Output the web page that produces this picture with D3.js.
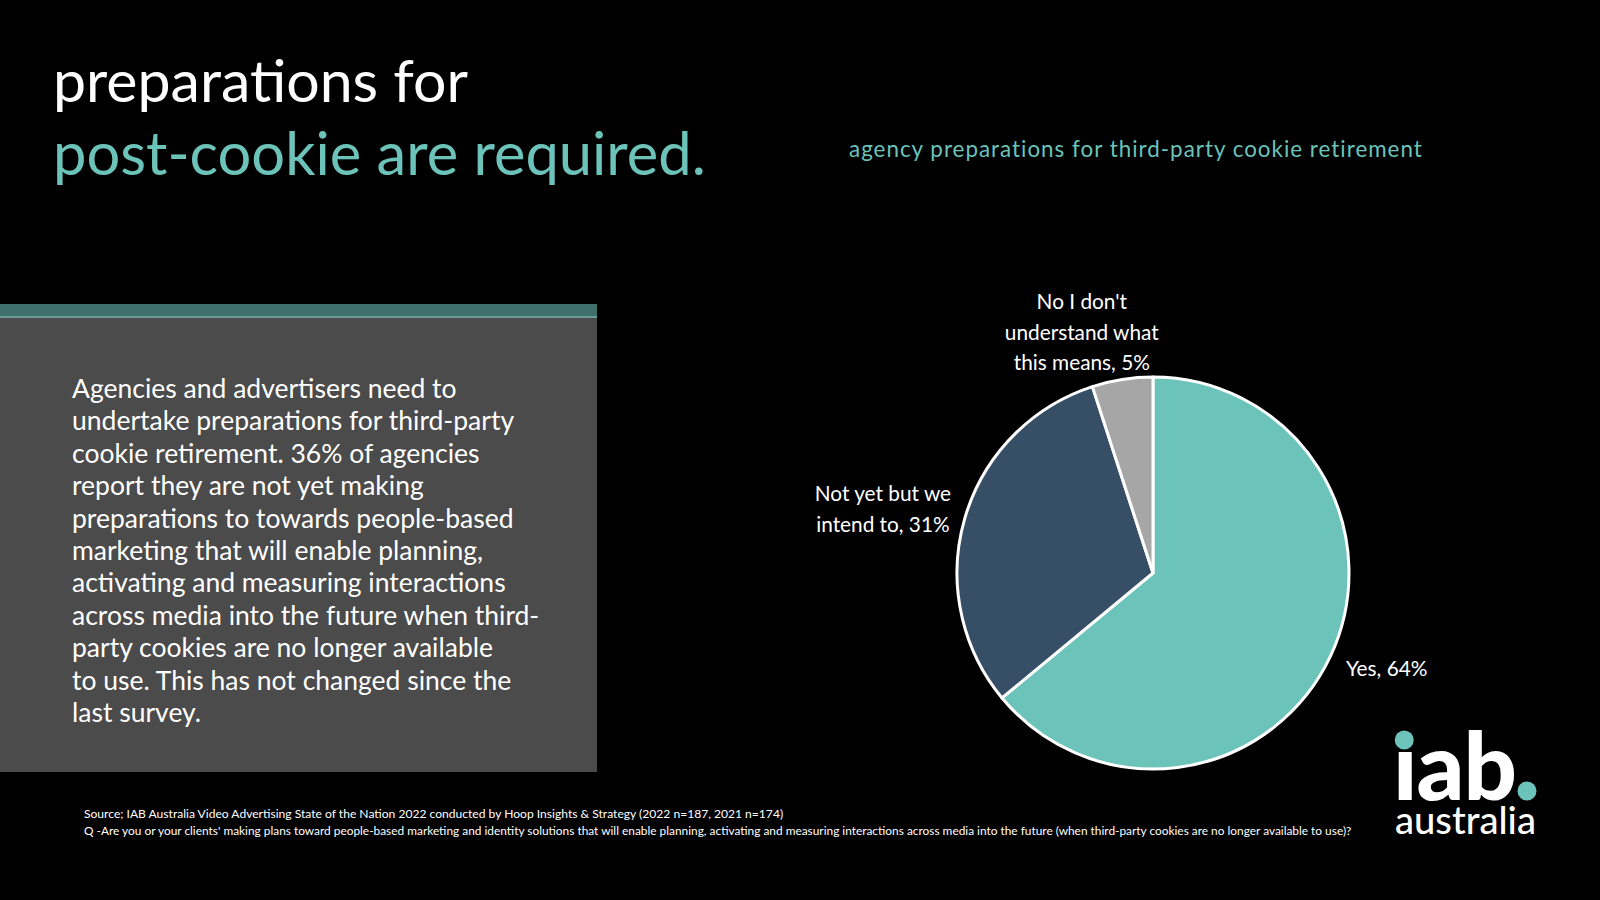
<!DOCTYPE html>
<html>
<head>
<meta charset="utf-8">
<script src="https://cdn.jsdelivr.net/npm/d3@7"></script>
<style>
  html, body { margin: 0; padding: 0; background: #000; }
  svg { display: block; }
</style>
</head>
<body>
<script>
// Pie data
var categories = ["Yes", "Not yet but we intend to", "No I don't understand what this means"];
var shares = [64, 31, 5];
var sliceColors = ["#6cc3b9", "#374f66", "#a6a6a6"];
var labelLines = [
  ["Yes, 64%"],
  ["Not yet but we", "intend to, 31%"],
  ["No I don't", "understand what", "this means, 5%"]
];

var titleLines = ["preparations for", "post-cookie are required."];
var subtitle = "agency preparations for third-party cookie retirement";
var bodyLines = [
  "Agencies and advertisers need to",
  "undertake preparations for third-party",
  "cookie retirement. 36% of agencies",
  "report they are not yet making",
  "preparations to towards people-based",
  "marketing that will enable planning,",
  "activating and measuring interactions",
  "across media into the future when third-",
  "party cookies are no longer available",
  "to use. This has not changed since the",
  "last survey."
];
var notes = [
  "Source; IAB Australia Video Advertising State of the Nation 2022 conducted by Hoop Insights & Strategy (2022 n=187, 2021 n=174)",
  "Q -Are you or your clients' making plans toward people-based marketing and identity solutions that will enable planning, activating and measuring interactions across media into the future (when third-party cookies are no longer available to use)?"
];

var width = 1600, height = 900,
    teal = "#6cc3b9",
    font = "Lato, 'Noto Sans', sans-serif";

var svg = d3.select("body")
            .append("svg")
            .attr("width", width)
            .attr("height", height);

svg.append("rect").attr("width", width).attr("height", height).attr("fill", "#000");

// fit a text node to a target width by adjusting font size
function fitWidth(sel, target) {
  var w = sel.node().getComputedTextLength();
  var fs = parseFloat(sel.attr("font-size"));
  sel.attr("font-size", fs * target / w);
}

// Title
var t1 = svg.append("text")
   .attr("x", 53).attr("y", 102)
   .attr("font-family", font).attr("font-size", 56)
   .attr("fill", "#fff")
   .text(titleLines[0]);
fitWidth(t1, 415);
var t2 = svg.append("text")
   .attr("x", 53).attr("y", 175)
   .attr("font-family", font).attr("font-size", 56)
   .attr("fill", teal)
   .text(titleLines[1]);
fitWidth(t2, 653);

// chart subtitle
var st = svg.append("text")
   .attr("x", 849).attr("y", 157)
   .attr("font-family", font).attr("font-size", 22)
   .attr("fill", teal)
   .attr("letter-spacing", 1)
   .text(subtitle);
fitWidth(st, 575);

// Left panel
svg.append("rect").attr("x", 0).attr("y", 304).attr("width", 597).attr("height", 14).attr("fill", "#3f706c");
svg.append("rect").attr("x", 0).attr("y", 316).attr("width", 597).attr("height", 2).attr("fill", "#6a9c97");
svg.append("rect").attr("x", 0).attr("y", 318).attr("width", 597).attr("height", 454).attr("fill", "#4b4b4b");

svg.append("g")
   .selectAll("text")
   .data(bodyLines)
   .join("text")
   .attr("x", 72)
   .attr("y", function(d, i) { return 398 + i * 32.4; })
   .attr("font-family", font)
   .attr("font-size", 26.5)
   .attr("fill", "#fff")
   .text(function(d) { return d; });

// Pie
var cx = 1153, cy = 573, radius = 196;
var pie = d3.pie().sort(null).value(function(d) { return d; });
var arc = d3.arc().innerRadius(0).outerRadius(radius);
var arcs = pie(shares);

var pieG = svg.append("g").attr("transform", "translate(" + cx + "," + cy + ")");
pieG.selectAll("path")
    .data(arcs)
    .join("path")
    .attr("d", arc)
    .attr("fill", function(d, i) { return sliceColors[i]; })
    .attr("stroke", "#fff")
    .attr("stroke-width", 3)
    .attr("stroke-linejoin", "round");

// labels placed on an outer ring, nudged like the original
var labelRadius = [245, 275, 238];
var labelNudge = [[12, -8], [-6, 13], [-34, -5]];
var lineGap = 30.5;

arcs.forEach(function(a, i) {
  var la = d3.arc().innerRadius(labelRadius[i]).outerRadius(labelRadius[i]);
  var c = la.centroid(a);
  var lines = labelLines[i];
  var x0 = c[0] + labelNudge[i][0];
  var y0 = c[1] + labelNudge[i][1] - (lines.length - 1) * lineGap / 2 + 7;
  var txt = pieG.append("text")
     .attr("font-family", font)
     .attr("font-size", 20.8)
     .attr("fill", "#fff")
     .attr("text-anchor", "middle");
  lines.forEach(function(l, j) {
    txt.append("tspan").attr("x", x0).attr("y", y0 + j * lineGap).text(l);
  });
});

// Footnotes
var n1 = svg.append("text")
   .attr("x", 84).attr("y", 818)
   .attr("font-family", font).attr("font-size", 11)
   .attr("fill", "#fff")
   .text(notes[0]);
fitWidth(n1, 700);
var n2 = svg.append("text")
   .attr("x", 84).attr("y", 835)
   .attr("font-family", font).attr("font-size", 10)
   .attr("fill", "#fff")
   .text(notes[1]);
fitWidth(n2, 1269);

// Logo
var logo = svg.append("g");
var iab = logo.append("text")
    .attr("x", 1393).attr("y", 800)
    .attr("font-family", font)
    .attr("font-weight", 900)
    .attr("font-size", 72)
    .attr("fill", "#fff")
    .attr("letter-spacing", -1)
    .text("\u0131ab");
fitWidth(iab, 122);
var iNode = iab.node();
var iMid = (iNode.getStartPositionOfChar(0).x + iNode.getEndPositionOfChar(0).x) / 2 - 0.5;
logo.append("circle").attr("cx", iMid).attr("cy", 740).attr("r", 9.5).attr("fill", teal);
logo.append("circle").attr("cx", 1527).attr("cy", 791).attr("r", 9.5).attr("fill", teal);
var au = logo.append("text")
    .attr("x", 1395).attr("y", 834)
    .attr("font-family", font)
    .attr("font-weight", 500)
    .attr("font-size", 38)
    .attr("fill", "#fff")
    .text("australia");
fitWidth(au, 141);
</script>
</body>
</html>
